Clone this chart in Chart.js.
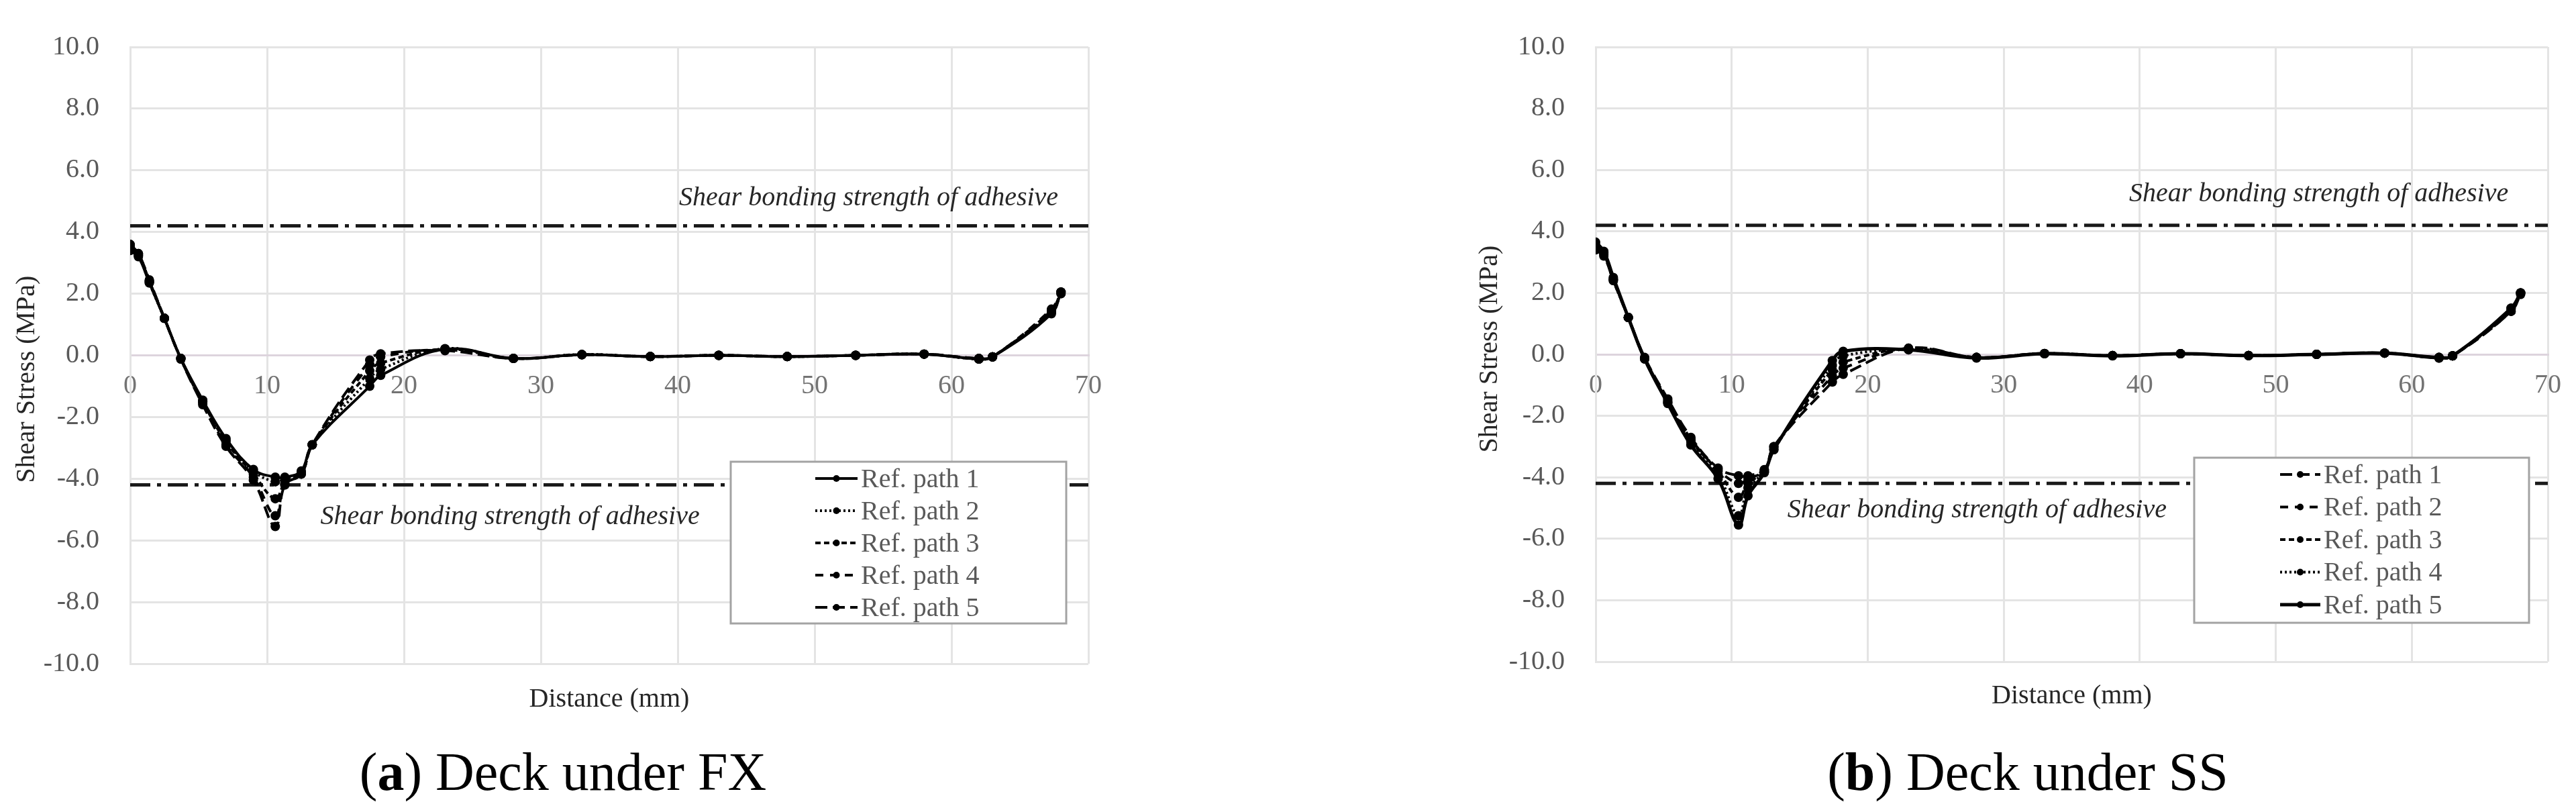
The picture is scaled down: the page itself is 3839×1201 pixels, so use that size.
<!DOCTYPE html>
<html>
<head>
<meta charset="utf-8">
<script src="https://cdn.jsdelivr.net/npm/chart.js@4.4.1/dist/chart.umd.min.js"></script>
<style>
html, body { margin: 0; padding: 0; background: #fff; }
body { width: 3839px; height: 1201px; position: relative; overflow: hidden; font-family: "Liberation Serif", serif; }
canvas { position: absolute; top: 0; }
#chartA { left: 0; }
#chartB { left: 2180px; }
.cap { position: absolute; top: 1110px; font-size: 80px; line-height: 1; color: #000; white-space: nowrap; transform: translateX(-50%); }
</style>
</head>
<body>
<canvas id="chartA" width="1700" height="1100"></canvas>
<canvas id="chartB" width="1659" height="1100"></canvas>
<div class="cap" style="left:839px">(<b>a</b>) Deck under FX</div>
<div class="cap" style="left:3022px">(<b>b</b>) Deck under SS</div>
<script>
// distances along the reference paths (mm)
const distFX = [0, 0.6, 1.4, 2.5, 3.7, 5.3, 7.0, 9.0, 10.6, 11.3, 12.5, 13.3, 17.5, 18.3, 23.0, 28.0, 33.0, 38.0, 43.0, 48.0, 53.0, 58.0, 62.0, 63.0, 67.3, 68.0];
const distSS = [0, 0.6, 1.3, 2.4, 3.6, 5.3, 7.0, 9.0, 10.5, 11.2, 12.4, 13.1, 17.4, 18.2, 23.0, 28.0, 33.0, 38.0, 43.0, 48.0, 53.0, 58.0, 62.0, 63.0, 67.3, 68.0];

// shear stress (MPa), deck under FX
const fxPath1 = [3.40, 3.20, 2.35, 1.20, -0.10, -1.45, -2.70, -3.70, -3.95, -3.95, -3.75, -2.90, -1.00, -0.65, 0.20, -0.10, 0.02, -0.04, 0.00, -0.04, 0.00, 0.04, -0.12, -0.05, 1.35, 2.05];
const fxPath2 = [3.45, 3.25, 2.35, 1.20, -0.10, -1.50, -2.75, -3.75, -4.10, -4.00, -3.80, -2.90, -0.75, -0.45, 0.22, -0.10, 0.03, -0.04, 0.00, -0.04, 0.00, 0.04, -0.12, -0.05, 1.40, 2.00];
const fxPath3 = [3.50, 3.25, 2.40, 1.20, -0.10, -1.50, -2.80, -3.85, -4.65, -4.15, -3.80, -2.90, -0.50, -0.25, 0.20, -0.10, 0.02, -0.04, 0.00, -0.04, 0.00, 0.04, -0.12, -0.05, 1.45, 2.00];
const fxPath4 = [3.55, 3.30, 2.40, 1.20, -0.12, -1.55, -2.90, -3.95, -5.20, -4.20, -3.85, -2.90, -0.30, -0.05, 0.18, -0.10, 0.02, -0.04, 0.00, -0.04, 0.00, 0.04, -0.10, -0.05, 1.50, 2.05];
const fxPath5 = [3.60, 3.30, 2.45, 1.20, -0.12, -1.60, -2.95, -4.05, -5.55, -4.20, -3.85, -2.90, -0.15, 0.05, 0.15, -0.10, 0.02, -0.04, 0.00, -0.04, 0.00, 0.04, -0.10, -0.05, 1.45, 2.05];

// shear stress (MPa), deck under SS
const ssPath1 = [3.40, 3.20, 2.40, 1.20, -0.10, -1.45, -2.70, -3.70, -3.95, -3.95, -3.75, -3.00, -0.90, -0.65, 0.20, -0.10, 0.03, -0.04, 0.02, -0.04, 0.00, 0.04, -0.12, -0.05, 1.40, 2.00];
const ssPath2 = [3.45, 3.25, 2.40, 1.20, -0.12, -1.50, -2.75, -3.75, -4.20, -4.05, -3.78, -3.00, -0.70, -0.45, 0.20, -0.10, 0.03, -0.04, 0.02, -0.04, 0.00, 0.04, -0.12, -0.05, 1.40, 1.95];
const ssPath3 = [3.50, 3.30, 2.45, 1.20, -0.15, -1.55, -2.80, -3.80, -4.65, -4.20, -3.80, -3.05, -0.50, -0.25, 0.18, -0.10, 0.02, -0.04, 0.02, -0.04, 0.00, 0.04, -0.10, -0.05, 1.45, 2.00];
const ssPath4 = [3.55, 3.30, 2.45, 1.20, -0.15, -1.55, -2.85, -3.90, -5.25, -4.35, -3.82, -3.10, -0.35, -0.05, 0.15, -0.10, 0.02, -0.04, 0.02, -0.04, 0.00, 0.04, -0.10, -0.05, 1.50, 2.00];
const ssPath5 = [3.65, 3.35, 2.50, 1.20, -0.15, -1.60, -2.95, -4.05, -5.55, -4.60, -3.85, -3.10, -0.20, 0.10, 0.15, -0.12, 0.02, -0.05, 0.02, -0.04, 0.00, 0.04, -0.10, -0.05, 1.50, 2.00];

const pathNames = ['Ref. path 1', 'Ref. path 2', 'Ref. path 3', 'Ref. path 4', 'Ref. path 5'];
const bondStrength = 4.2;
const bondLabel = 'Shear bonding strength of adhesive';
const xTicks = [0, 10, 20, 30, 40, 50, 60, 70];
const yTicks = [-10, -8, -6, -4, -2, 0, 2, 4, 6, 8, 10];

Chart.defaults.font.family = '"Liberation Serif", "Times New Roman", serif';
Chart.defaults.font.size = 40;

const DOT = [3, 4], SHORT = [8, 5], MID = [12, 10], LONG = [18, 8];

function pts(xs, ys) {
  return xs.map((x, i) => ({ x: x, y: ys[i] }));
}

const overlay = {
  id: 'overlay',
  afterDatasetsDraw(chart, args, o) {
    const ctx = chart.ctx;
    const xs = chart.scales.x, ys = chart.scales.y, area = chart.chartArea;
    ctx.save();
    ctx.textBaseline = 'middle';
    // notes next to the strength lines
    ctx.font = 'italic 40px "Liberation Serif"';
    ctx.fillStyle = '#262626';
    o.notes.forEach(n => {
      ctx.textAlign = n.align;
      ctx.fillText(bondLabel, xs.getPixelForValue(n.x), ys.getPixelForValue(n.y));
    });
    // legend
    const lg = o.legend;
    ctx.fillStyle = '#fff';
    ctx.fillRect(lg.left, lg.top, lg.width, lg.height);
    ctx.strokeStyle = '#a3a3a3';
    ctx.lineWidth = 3;
    ctx.strokeRect(lg.left, lg.top, lg.width, lg.height);
    chart.data.datasets.filter(d => !d.isRef).forEach((d, i) => {
      const y = lg.top + lg.first + i * lg.gap;
      ctx.strokeStyle = '#000';
      ctx.lineWidth = d.borderWidth;
      ctx.setLineDash(d.borderDash || []);
      ctx.beginPath();
      ctx.moveTo(lg.sampleX, y);
      ctx.lineTo(lg.sampleX + lg.sampleW, y);
      ctx.stroke();
      ctx.setLineDash([]);
      ctx.fillStyle = '#000';
      ctx.beginPath();
      ctx.arc(lg.sampleX + lg.sampleW / 2, y, 5, 0, Math.PI * 2);
      ctx.fill();
      ctx.fillStyle = '#595959';
      ctx.font = '40px "Liberation Serif"';
      ctx.textAlign = 'left';
      ctx.fillText(d.label, lg.sampleX + lg.sampleW + 5, y + 2);
    });
    // axis titles
    ctx.fillStyle = '#262626';
    ctx.font = '40px "Liberation Serif"';
    ctx.textAlign = 'center';
    ctx.fillText('Distance (mm)', (area.left + area.right) / 2, o.xTitleY);
    ctx.translate(o.yTitleX, o.yTitleY);
    ctx.rotate(-Math.PI / 2);
    ctx.fillText('Shear Stress (MPa)', 0, 0);
    ctx.restore();
  }
};

function makeChart(id, dist, series, dashes, widths, cfg) {
  const datasets = series.map((s, i) => ({
    label: pathNames[i],
    data: pts(dist, s),
    showLine: true,
    tension: 0.4,
    borderColor: '#000',
    backgroundColor: '#000',
    borderWidth: widths[i],
    borderDash: dashes[i],
    pointRadius: 7,
    pointBorderWidth: 0,
    pointBackgroundColor: '#000'
  }));
  [bondStrength, -bondStrength].forEach(v => {
    datasets.push({
      isRef: true,
      label: 'ref',
      data: pts([xTicks[0], xTicks[xTicks.length - 1]], [v, v]),
      showLine: true,
      borderColor: '#1a1a1a',
      borderWidth: 5,
      borderDash: [30, 10, 6, 10],
      pointRadius: 0
    });
  });
  return new Chart(document.getElementById(id), {
    type: 'scatter',
    data: { datasets: datasets },
    options: {
      responsive: false,
      animation: false,
      layout: { padding: cfg.padding },
      plugins: {
        legend: { display: false },
        tooltip: { enabled: false },
        overlay: cfg.overlay
      },
      scales: {
        x: {
          type: 'linear',
          min: xTicks[0], max: xTicks[xTicks.length - 1],
          position: { y: 0 },
          afterFit: s => { s.height = 0; },
          afterBuildTicks: s => { s.ticks = xTicks.map(v => ({ value: v })); },
          grid: { color: '#e4e4e4', lineWidth: 3, drawTicks: false },
          border: { color: '#ddd4dd', width: 3 },
          ticks: { color: '#737373', padding: 22, maxRotation: 0, callback: v => String(v) }
        },
        y: {
          type: 'linear',
          min: yTicks[0], max: yTicks[yTicks.length - 1],
          afterFit: s => { s.width = cfg.yWidth; },
          afterBuildTicks: s => { s.ticks = yTicks.map(v => ({ value: v })); },
          grid: { color: '#e4e4e4', lineWidth: 3, drawTicks: false },
          border: { color: '#e4e4e4', width: 3 },
          ticks: { color: '#595959', padding: 46, callback: v => v.toFixed(1) }
        }
      }
    },
    plugins: [overlay]
  });
}

makeChart('chartA', distFX, [fxPath1, fxPath2, fxPath3, fxPath4, fxPath5],
  [[], DOT, SHORT, MID, LONG], [4, 4, 4, 4, 4], {
    padding: { left: 0, top: 58, right: 78, bottom: 111 },
    yWidth: 194,
    overlay: {
      notes: [{ x: 67.8, y: 5.1, align: 'right' }, { x: 13.9, y: -5.24, align: 'left' }],
      legend: { left: 1089, top: 688, width: 500, height: 241, first: 25, gap: 48, sampleX: 1215, sampleW: 63 },
      xTitleY: 1042, yTitleX: 40, yTitleY: 565
    }
  });

makeChart('chartB', distSS, [ssPath1, ssPath2, ssPath3, ssPath4, ssPath5],
  [LONG, MID, SHORT, DOT, []], [4, 4, 4, 4, 5], {
    padding: { left: 0, top: 34, right: 35, bottom: 114 },
    yWidth: 198,
    overlay: {
      notes: [{ x: 67.1, y: 5.2, align: 'right' }, { x: 14.1, y: -5.08, align: 'left' }],
      legend: { left: 1090, top: 682, width: 499, height: 246, first: 25, gap: 48.5, sampleX: 1218, sampleW: 60 },
      xTitleY: 1037, yTitleX: 40, yTitleY: 520
    }
  });
</script>
</body>
</html>
